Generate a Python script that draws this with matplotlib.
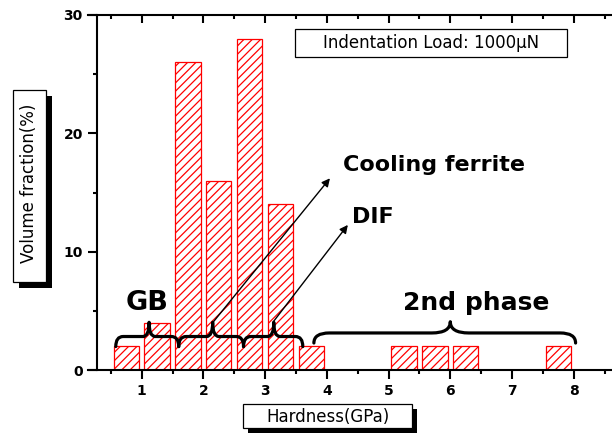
import matplotlib
matplotlib.use("Agg")
import matplotlib.pyplot as plt
from matplotlib.patches import Rectangle, PathPatch
from matplotlib.path import Path
from matplotlib.ticker import MultipleLocator

plt.rcParams['font.family'] = ['DejaVu Sans']
plt.rcParams['hatch.linewidth'] = 0.9
plt.rcParams['hatch.color'] = 'red'

# Data
hardness = [0.75, 1.25, 1.75, 2.25, 2.75, 3.25, 3.75, 5.25, 5.75, 6.25, 7.75]
volume_fraction = [2, 4, 26, 16, 28, 14, 2, 2, 2, 2, 2]
x_ticks = [1, 2, 3, 4, 5, 6, 7, 8]
y_ticks = [0, 10, 20, 30]

W, H = 612, 438
fig = plt.figure(figsize=(W / 100, H / 100), dpi=100)
ax = fig.add_axes([88 / W, (H - 370) / H, (W - 88) / W, 355 / H])

ax.bar(hardness, volume_fraction, width=0.41, facecolor='white',
       edgecolor='red', linewidth=0.9, hatch='////', zorder=2)

ax.set_xlim(0.13, 8.62)
ax.set_ylim(0, 30)
ax.spines['right'].set_visible(False)
ax.spines['top'].set_visible(False)
ax.spines['left'].set_position(('data', 0.27))
for s in ['left', 'bottom']:
    ax.spines[s].set_linewidth(1.5)

ax.set_xticks(x_ticks)
ax.set_yticks(y_ticks)
ax.xaxis.set_minor_locator(MultipleLocator(0.5))
ax.yaxis.set_minor_locator(MultipleLocator(5))
ax.tick_params(which='major', direction='out', length=6.5, width=1.5,
               labelsize=10, pad=3.5)
ax.tick_params(which='minor', direction='out', length=3, width=1.5)
for lab in ax.get_xticklabels() + ax.get_yticklabels():
    lab.set_fontweight('bold')

sec = ax.secondary_xaxis('top')
sec.set_xticks(x_ticks)
sec.xaxis.set_minor_locator(MultipleLocator(0.5))
sec.tick_params(which='major', direction='in', length=6, width=1.5,
                labeltop=False)
sec.tick_params(which='minor', direction='in', length=3, width=1.5)
sec.spines['top'].set_linewidth(1.5)
sec.set_xticklabels([])


def brace(x0, x1, xc, y, up, down, rx_end, rx_mid, lw=2.3):
    verts = [(x0, y - down), (x0, y), (x0 + rx_end, y),
             (xc - rx_mid, y), (xc, y), (xc, y + up),
             (xc, y), (xc + rx_mid, y),
             (x1 - rx_end, y), (x1, y), (x1, y - down)]
    codes = [Path.MOVETO, Path.CURVE3, Path.CURVE3,
             Path.LINETO, Path.CURVE3, Path.CURVE3,
             Path.CURVE3, Path.CURVE3,
             Path.LINETO, Path.CURVE3, Path.CURVE3]
    ax.add_patch(PathPatch(Path(verts, codes), facecolor='none',
                           edgecolor='black', lw=lw, zorder=4,
                           capstyle='round', joinstyle='round'))


# GB / cooling ferrite / DIF braces
brace(0.58, 1.60, 1.12, 2.83, 1.2, 0.85, 0.12, 0.1)
brace(1.60, 2.65, 2.15, 2.83, 1.2, 0.85, 0.12, 0.1)
brace(2.65, 3.61, 3.14, 2.83, 1.2, 0.85, 0.12, 0.1)
# 2nd phase brace
brace(3.79, 8.03, 6.0, 3.13, 0.95, 0.85, 0.25, 0.3)

ax.text(1.09, 5.7, 'GB', fontsize=19.5, fontweight='bold', ha='center',
        va='center', zorder=5)
ax.text(6.42, 5.7, '2nd phase', fontsize=18, fontweight='bold',
        ha='center', va='center', zorder=5)
ax.text(4.26, 17.3, 'Cooling ferrite', fontsize=16, fontweight='bold',
        ha='left', va='center', zorder=5)
ax.text(4.40, 12.9, 'DIF', fontsize=16, fontweight='bold',
        ha='left', va='center', zorder=5)

arrow = dict(arrowstyle='-|>', lw=1.0, color='black', mutation_scale=12,
             shrinkA=0, shrinkB=0)
ax.annotate('', xy=(4.05, 16.2), xytext=(2.16, 4.06), arrowprops=arrow,
            zorder=5)
ax.annotate('', xy=(4.34, 12.26), xytext=(3.13, 4.06), arrowprops=arrow,
            zorder=5)


def fig_box(x0, y0, x1, y1, shadow=0):
    if shadow:
        fig.add_artist(Rectangle(((x0 + shadow) / W, (H - y1 - shadow) / H),
                                 (x1 - x0) / W, (y1 - y0) / H,
                                 transform=fig.transFigure, facecolor='black',
                                 edgecolor='black', lw=0, zorder=1))
    fig.add_artist(Rectangle((x0 / W, (H - y1) / H), (x1 - x0) / W,
                             (y1 - y0) / H, transform=fig.transFigure,
                             facecolor='white', edgecolor='black', lw=0.9,
                             zorder=2))


# Indentation load box
fig_box(295, 29, 567, 57)
fig.text(431 / W, 1 - 43.5 / H, 'Indentation Load: 1000μN', fontsize=12,
         ha='center', va='center', zorder=3)

# x label box
fig_box(243, 404, 412, 428, shadow=5)
fig.text(327.5 / W, 1 - 416.5 / H, 'Hardness(GPa)', fontsize=12,
         ha='center', va='center', zorder=3)

# y label box
fig_box(13, 90, 46, 282, shadow=6)
fig.text(29.5 / W, 1 - 183 / H, 'Volume fraction(%)', fontsize=12,
         rotation=90, ha='center', va='center', zorder=3)

fig.savefig('out.png', dpi=100)
